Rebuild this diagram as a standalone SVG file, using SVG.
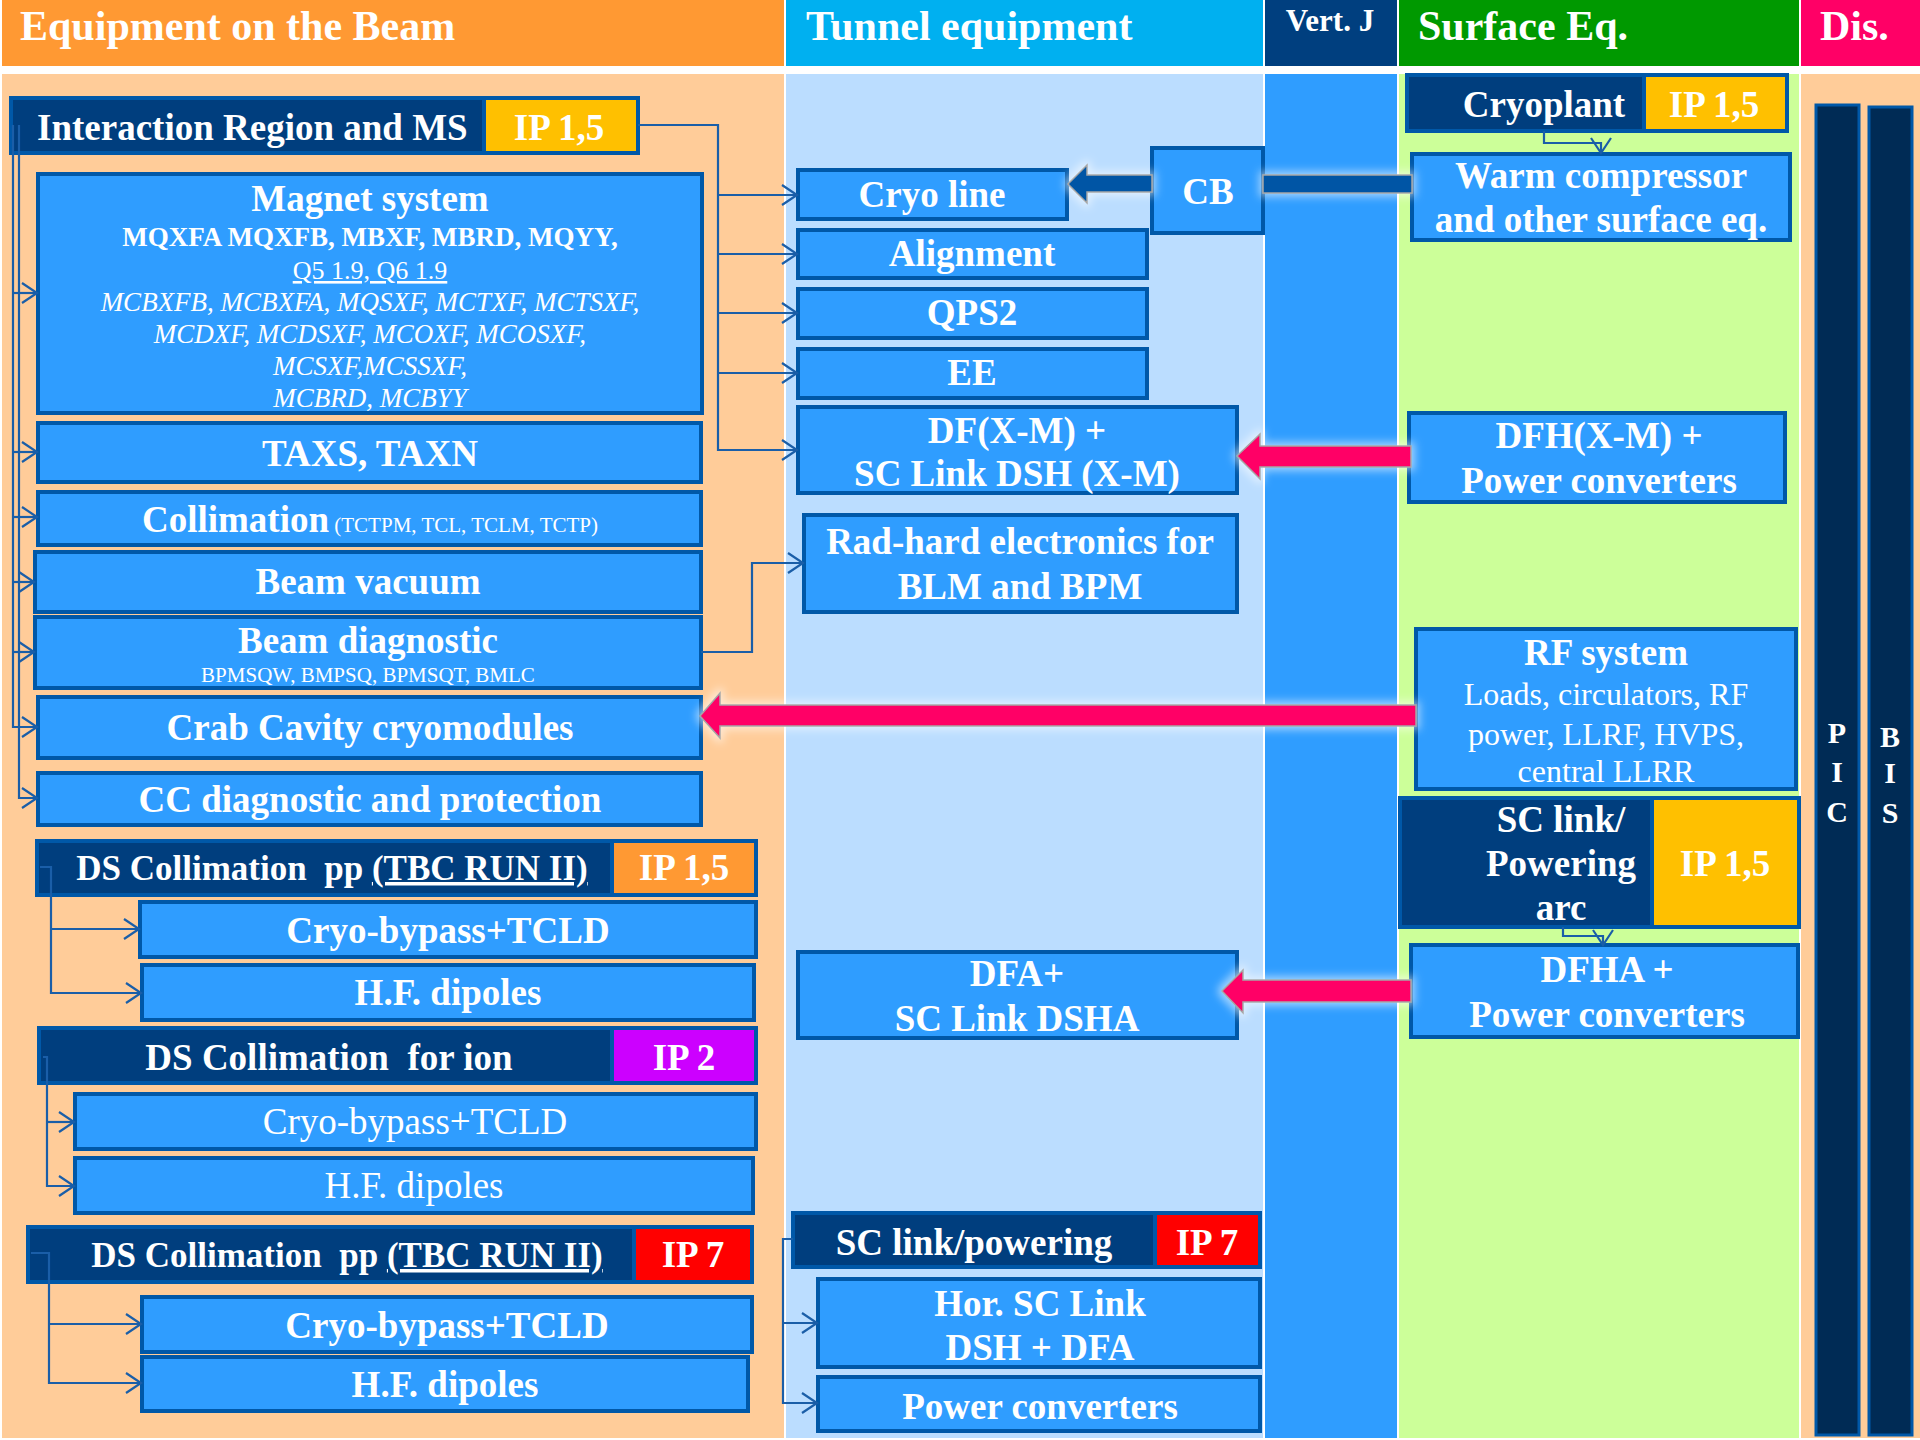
<svg xmlns="http://www.w3.org/2000/svg" width="1920" height="1440" viewBox="0 0 1920 1440">
<style>
.n{fill:#2F9DFF;stroke:#0058A8;stroke-width:4}
.d{fill:#003E7E;stroke:#0058A8;stroke-width:4}
.t{font-family:"Liberation Serif","Times New Roman",serif;fill:#fff}
.b{font-weight:bold}
.c{text-anchor:middle}
.i{font-style:italic}
.u{text-decoration:underline}
.s42{font-size:42px}.s37{font-size:37px}.s35{font-size:35px}.s34{font-size:34px}.s32{font-size:32px}.s31{font-size:31px}.s27{font-size:27px}.s26{font-size:26px}.s21{font-size:21px}.s30{font-size:30px}
.cn{fill:none;stroke:#1A5EA8;stroke-width:2.2}
.pk{fill:#FF0066;stroke:#A6A6A6;stroke-width:1.5}
.db{fill:#0055A5;stroke:#A6A6A6;stroke-width:1.5}
.bar{fill:#002B55;stroke:#0058A8;stroke-width:3}
</style>
<defs>
<marker id="ah" markerUnits="userSpaceOnUse" markerWidth="18" markerHeight="22" viewBox="0 0 18 22" refX="16" refY="11" orient="auto">
<path d="M1,1 L16,11 L1,21" fill="none" stroke="#1A5EA8" stroke-width="2.2"/>
</marker>
<filter id="glow" x="-20%" y="-60%" width="140%" height="220%">
<feMorphology in="SourceAlpha" operator="dilate" radius="3" result="d"/>
<feGaussianBlur in="d" stdDeviation="4" result="bl"/>
<feFlood flood-color="#ffffff" flood-opacity="0.55"/>
<feComposite in2="bl" operator="in" result="g"/>
<feMerge><feMergeNode in="g"/><feMergeNode in="SourceGraphic"/></feMerge>
</filter>
</defs>
<rect x="0" y="0" width="1920" height="1440" fill="#ffffff"/>
<g id="columns">
<rect x="2" y="0" width="782" height="66" fill="#FF9933"/>
<rect x="786" y="0" width="477" height="66" fill="#00B0F0"/>
<rect x="1265" y="0" width="132" height="66" fill="#003F7F"/>
<rect x="1399" y="0" width="400" height="66" fill="#009900"/>
<rect x="1801" y="0" width="119" height="66" fill="#FF0066"/>
<rect x="2" y="74" width="782" height="1364" fill="#FFCC99"/>
<rect x="786" y="74" width="477" height="1364" fill="#BBDDFF"/>
<rect x="1265" y="74" width="132" height="1364" fill="#2F9DFF"/>
<rect x="1399" y="74" width="400" height="1364" fill="#CCFF99"/>
<rect x="1801" y="74" width="119" height="1364" fill="#FFCC99"/>
<text class="t b s42" x="20" y="40">Equipment on the Beam</text>
<text class="t b s42" x="806" y="40">Tunnel equipment</text>
<text class="t b s31 c" x="1330" y="31">Vert. J</text>
<text class="t b s42" x="1418" y="40">Surface Eq.</text>
<text class="t b s42" x="1820" y="40">Dis.</text>
</g>
<g id="pic"><rect class="bar" x="1816" y="105" width="43" height="1330"/>
<text class="t b s30 c" x="1837" y="743">P</text><text class="t b s30 c" x="1837" y="782">I</text><text class="t b s30 c" x="1837" y="822">C</text></g>
<g id="bis"><rect class="bar" x="1869" y="107" width="43" height="1328"/>
<text class="t b s30 c" x="1890" y="747">B</text><text class="t b s30 c" x="1890" y="783">I</text><text class="t b s30 c" x="1890" y="823">S</text></g>

<g id="ir-ms"><rect class="d" x="11" y="98" width="473" height="55"/><rect x="484" y="98" width="154" height="55" fill="#FFC000" stroke="#0058A8" stroke-width="4"/>
<text class="t b s37" x="37" y="140">Interaction Region and MS</text><text class="t b s37 c" x="559" y="140">IP 1,5</text></g>
<g id="magnet"><rect class="n" x="38" y="174" width="664" height="239"/>
<text class="t b s37 c" x="370" y="211">Magnet system</text>
<text class="t b s27 c" x="370" y="246">MQXFA MQXFB, MBXF, MBRD, MQYY,</text>
<text class="t s26 c u" x="370" y="279">Q5 1.9, Q6 1.9</text>
<text class="t i s27 c" x="370" y="311">MCBXFB, MCBXFA, MQSXF, MCTXF, MCTSXF,</text>
<text class="t i s27 c" x="370" y="343">MCDXF, MCDSXF, MCOXF, MCOSXF,</text>
<text class="t i s27 c" x="370" y="375">MCSXF,MCSSXF,</text>
<text class="t i s27 c" x="370" y="407">MCBRD, MCBYY</text></g>
<g id="taxs"><rect class="n" x="38" y="423" width="663" height="59"/><text class="t b s37 c" x="370" y="466">TAXS, TAXN</text></g>
<g id="collimation"><rect class="n" x="38" y="492" width="663" height="53"/><text class="t c" x="370" y="532"><tspan class="b s37">Collimation</tspan><tspan class="s21"> (TCTPM, TCL, TCLM, TCTP)</tspan></text></g>
<g id="beam-vacuum"><rect class="n" x="35" y="552" width="666" height="60"/><text class="t b s37 c" x="368" y="594">Beam vacuum</text></g>
<g id="beam-diag"><rect class="n" x="35" y="617" width="666" height="71"/><text class="t b s37 c" x="368" y="653">Beam diagnostic</text><text class="t s21 c" x="368" y="682">BPMSQW, BMPSQ, BPMSQT, BMLC</text></g>
<g id="crab"><rect class="n" x="38" y="697" width="663" height="61"/><text class="t b s37 c" x="370" y="740">Crab Cavity cryomodules</text></g>
<g id="cc-diag"><rect class="n" x="38" y="773" width="663" height="52"/><text class="t b s37 c" x="370" y="812">CC diagnostic and protection</text></g>

<g id="ds-pp-15"><rect class="d" x="37" y="841" width="575" height="54"/><rect x="612" y="841" width="144" height="54" fill="#FF9933" stroke="#0058A8" stroke-width="4"/>
<text class="t b s35 c" x="332" y="880" xml:space="preserve">DS Collimation  pp <tspan class="u">(TBC RUN II)</tspan></text><text class="t b s37 c" x="684" y="880">IP 1,5</text></g>
<g id="ds15-cryo"><rect class="n" x="140" y="902" width="616" height="55"/><text class="t b s37 c" x="448" y="943">Cryo-bypass+TCLD</text></g>
<g id="ds15-hf"><rect class="n" x="142" y="965" width="612" height="55"/><text class="t b s37 c" x="448" y="1005">H.F. dipoles</text></g>

<g id="ds-ion"><rect class="d" x="39" y="1028" width="573" height="55"/><rect x="612" y="1028" width="144" height="55" fill="#CC00FF" stroke="#0058A8" stroke-width="4"/>
<text class="t b s37 c" x="329" y="1070" xml:space="preserve">DS Collimation  for ion</text><text class="t b s37 c" x="684" y="1070">IP 2</text></g>
<g id="ion-cryo"><rect class="n" x="75" y="1094" width="681" height="55"/><text class="t s37 c" x="415" y="1134">Cryo-bypass+TCLD</text></g>
<g id="ion-hf"><rect class="n" x="75" y="1158" width="678" height="55"/><text class="t s37 c" x="414" y="1198">H.F. dipoles</text></g>

<g id="ds-pp-7"><rect class="d" x="28" y="1227" width="606" height="55"/><rect x="634" y="1227" width="118" height="55" fill="#FF0000" stroke="#0058A8" stroke-width="4"/>
<text class="t b s35 c" x="347" y="1267" xml:space="preserve">DS Collimation  pp <tspan class="u">(TBC RUN II)</tspan></text><text class="t b s37 c" x="693" y="1267">IP 7</text></g>
<g id="ds7-cryo"><rect class="n" x="142" y="1297" width="610" height="55"/><text class="t b s37 c" x="447" y="1338">Cryo-bypass+TCLD</text></g>
<g id="ds7-hf"><rect class="n" x="142" y="1357" width="606" height="54"/><text class="t b s37 c" x="445" y="1397">H.F. dipoles</text></g>

<g id="cryo-line"><rect class="n" x="798" y="170" width="269" height="49"/><text class="t b s37 c" x="932" y="207">Cryo line</text></g>
<g id="alignment"><rect class="n" x="798" y="230" width="349" height="48"/><text class="t b s37 c" x="972" y="266">Alignment</text></g>
<g id="qps2"><rect class="n" x="798" y="289" width="349" height="49"/><text class="t b s37 c" x="972" y="325">QPS2</text></g>
<g id="ee"><rect class="n" x="798" y="349" width="349" height="49"/><text class="t b s37 c" x="972" y="385">EE</text></g>
<g id="df"><rect class="n" x="798" y="407" width="439" height="86"/><text class="t b s37 c" x="1017" y="443">DF(X-M) +</text><text class="t b s37 c" x="1017" y="486">SC Link DSH (X-M)</text></g>
<g id="radhard"><rect class="n" x="804" y="515" width="433" height="97"/><text class="t b s37 c" x="1020" y="554">Rad-hard electronics for</text><text class="t b s37 c" x="1020" y="599">BLM and BPM</text></g>
<g id="cb"><rect class="n" x="1152" y="148" width="111" height="85"/><text class="t b s37 c" x="1208" y="204">CB</text></g>
<g id="dfa"><rect class="n" x="798" y="952" width="439" height="86"/><text class="t b s37 c" x="1017" y="986">DFA+</text><text class="t b s37 c" x="1017" y="1031">SC Link DSHA</text></g>
<g id="sc-link-7"><rect class="d" x="793" y="1213" width="362" height="54"/><rect x="1155" y="1213" width="105" height="54" fill="#FF0000" stroke="#0058A8" stroke-width="4"/>
<text class="t b s37 c" x="974" y="1255">SC link/powering</text><text class="t b s37 c" x="1207" y="1255">IP 7</text></g>
<g id="hor-sc"><rect class="n" x="818" y="1279" width="442" height="88"/><text class="t b s37 c" x="1040" y="1316">Hor. SC Link</text><text class="t b s37 c" x="1040" y="1360">DSH + DFA</text></g>
<g id="pc-7"><rect class="n" x="818" y="1377" width="442" height="54"/><text class="t b s37 c" x="1040" y="1419">Power converters</text></g>

<g id="cryoplant"><rect class="d" x="1407" y="75" width="237" height="56"/><rect x="1644" y="75" width="143" height="56" fill="#FFC000" stroke="#0058A8" stroke-width="4"/>
<text class="t b s37 c" x="1544" y="117">Cryoplant</text><text class="t b s37 c" x="1714" y="117">IP 1,5</text></g>
<g id="warm"><rect class="n" x="1412" y="154" width="378" height="86"/><text class="t b s37 c" x="1601" y="188">Warm compressor</text><text class="t b s37 c" x="1601" y="232">and other surface eq.</text></g>
<g id="dfh"><rect class="n" x="1409" y="413" width="376" height="89"/><text class="t b s37 c" x="1599" y="448">DFH(X-M) +</text><text class="t b s37 c" x="1599" y="493">Power converters</text></g>
<g id="rf"><rect class="n" x="1416" y="629" width="380" height="160"/><text class="t b s37 c" x="1606" y="665">RF system</text>
<text class="t s32 c" x="1606" y="705">Loads, circulators, RF</text><text class="t s32 c" x="1606" y="745">power, LLRF, HVPS,</text><text class="t s32 c" x="1606" y="782">central LLRR</text></g>
<g id="sc-arc"><rect class="d" x="1400" y="798" width="252" height="129"/><rect x="1652" y="798" width="147" height="129" fill="#FFC000" stroke="#0058A8" stroke-width="4"/>
<text class="t b s37 c" x="1561" y="832">SC link/</text><text class="t b s37 c" x="1561" y="876">Powering</text><text class="t b s37 c" x="1561" y="920">arc</text><text class="t b s37 c" x="1725" y="876">IP 1,5</text></g>
<g id="dfha"><rect class="n" x="1411" y="945" width="387" height="92"/><text class="t b s37 c" x="1607" y="982">DFHA +</text><text class="t b s37 c" x="1607" y="1027">Power converters</text></g>

<g id="connectors">
<path class="cn" d="M13,125 V727 H37" marker-end="url(#ah)"/>
<path class="cn" d="M19,125 V798 H37" marker-end="url(#ah)"/>
<path class="cn" d="M13,293 H37" marker-end="url(#ah)"/>
<path class="cn" d="M13,452 H37" marker-end="url(#ah)"/>
<path class="cn" d="M13,517 H37" marker-end="url(#ah)"/>
<path class="cn" d="M13,582 H34" marker-end="url(#ah)"/>
<path class="cn" d="M13,652 H34" marker-end="url(#ah)"/>
<path class="cn" d="M638,125 H718 V450 H797" marker-end="url(#ah)"/>
<path class="cn" d="M718,195 H797" marker-end="url(#ah)"/>
<path class="cn" d="M718,254 H797" marker-end="url(#ah)"/>
<path class="cn" d="M718,313 H797" marker-end="url(#ah)"/>
<path class="cn" d="M718,373 H797" marker-end="url(#ah)"/>
<path class="cn" d="M701,652 H752 V563 H803" marker-end="url(#ah)"/>
<path class="cn" d="M40,867 H51 V993 H141" marker-end="url(#ah)"/>
<path class="cn" d="M51,929 H139" marker-end="url(#ah)"/>
<path class="cn" d="M43,1057 H47 V1186 H74" marker-end="url(#ah)"/>
<path class="cn" d="M47,1122 H74" marker-end="url(#ah)"/>
<path class="cn" d="M31,1253 H49 V1383 H141" marker-end="url(#ah)"/>
<path class="cn" d="M49,1324 H141" marker-end="url(#ah)"/>
<path class="cn" d="M793,1239 H783 V1403 H817" marker-end="url(#ah)"/>
<path class="cn" d="M783,1323 H817" marker-end="url(#ah)"/>
<path class="cn" d="M1544,131 V143 H1601 V153" marker-end="url(#ah)"/>
<path class="cn" d="M1563,927 V936 H1603 V945" marker-end="url(#ah)"/>
<g filter="url(#glow)">
<rect class="db" x="1263" y="175" width="149" height="18"/>
<polygon class="db" points="1152,175 1087,175 1087,165 1068,184 1087,203 1087,192 1152,192"/>
<polygon class="pk" points="1411,446 1260,446 1260,434 1237,456 1260,479 1260,467 1411,467"/>
<polygon class="pk" points="1416,705 720,705 720,693 700,716 720,738 720,726 1416,726"/>
<polygon class="pk" points="1411,980 1243,980 1243,970 1222,991 1243,1013 1243,1002 1411,1002"/>
</g>
</g>
</svg>
